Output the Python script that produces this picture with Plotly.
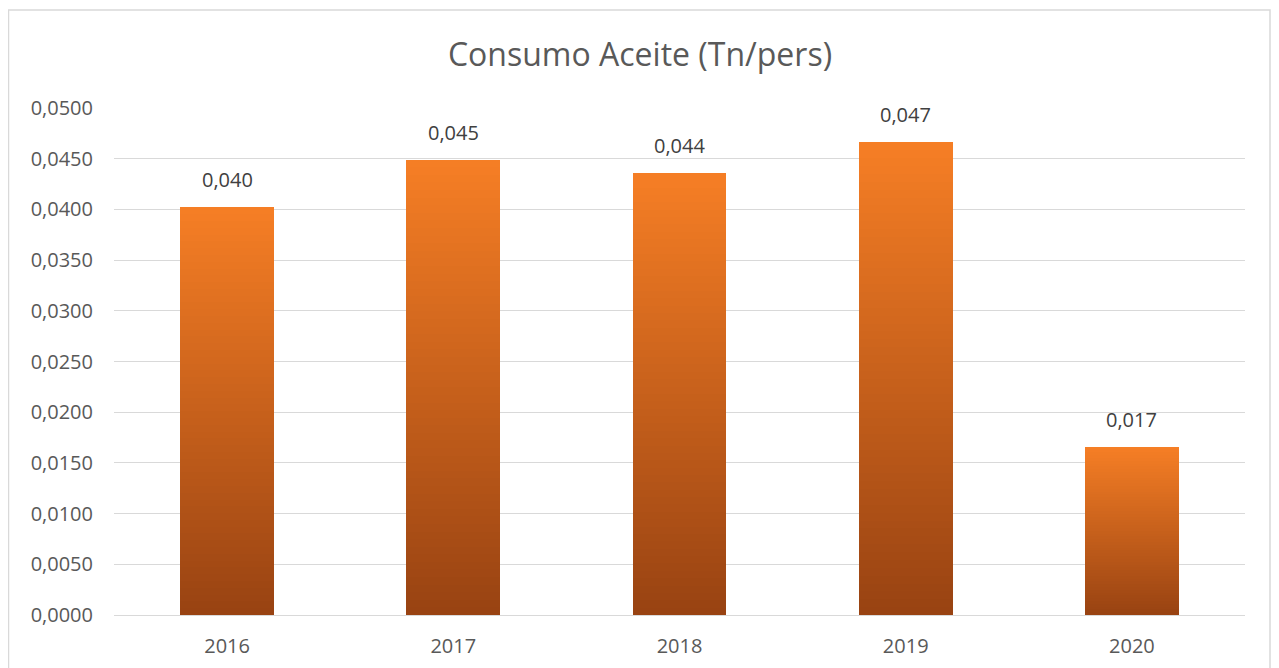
import plotly.graph_objects as go

years = ["2016", "2017", "2018", "2019", "2020"]
consumo = [0.0402, 0.0449, 0.0436, 0.0466, 0.0166]
labels = [f"{v:.3f}".replace(".", ",") for v in consumo]
y_ticks = [round(i * 0.005, 4) for i in range(11)]

title_text = "Consumo Aceite (Tn/pers)"

# vertical gradient (light orange at top, dark brown at bottom) via stacked slices
N = 60
top_rgb = (246, 127, 37)
bot_rgb = (152, 66, 18)

def mix(t):
    return "rgb({},{},{})".format(*[round(b + (a - b) * t) for a, b in zip(top_rgb, bot_rgb)])

fig = go.Figure()
for i in range(N):
    t = (i + 0.5) / N
    fig.add_trace(go.Bar(
        x=years,
        y=[v / N for v in consumo],
        marker=dict(color=mix(t), line=dict(width=0)),
        hoverinfo="skip",
        showlegend=False,
    ))

for idx, (v, lab) in enumerate(zip(consumo, labels)):
    fig.add_annotation(x=idx, y=v, text=lab, showarrow=False, yanchor="bottom",
                       yshift=12, font=dict(family="Open Sans", size=20, color="#404040"))

W, H = 1271, 660
L, T = 106, 100
PW, PH = 1131, 507

fig.update_layout(
    barmode="stack",
    bargap=0.585,
    width=W, height=H,
    separators=",.",
    paper_bgcolor="white", plot_bgcolor="white",
    margin=dict(l=L, r=W - L - PW, t=T, b=H - T - PH, autoexpand=False),
    title=dict(text=title_text, xref="paper", x=(632 - L) / PW, xanchor="center",
               y=1 - 47 / H, yanchor="middle",
               font=dict(family="Open Sans", size=32, color="#595959")),
    font=dict(family="Open Sans", color="#595959"),
    yaxis=dict(range=[0, 0.05], tickvals=y_ticks, tickformat=".4f",
               showgrid=True, gridcolor="#D9D9D9", gridwidth=1,
               zeroline=True, zerolinecolor="#D9D9D9", zerolinewidth=1,
               showline=False, ticks="", ticklen=0, ticklabelstandoff=20,
               tickfont=dict(family="Open Sans", size=20, color="#595959")),
    xaxis=dict(type="category", categoryarray=years, range=[-0.5, len(years) - 0.5],
               showgrid=False, showline=False, ticks="",
               ticklabelstandoff=17,
               tickfont=dict(family="Open Sans", size=20, color="#595959")),
    shapes=[dict(type="rect", xref="paper", yref="paper",
                 x0=(0.5 - L) / PW, x1=(1262 - L) / PW,
                 y0=-0.2, y1=(T + PH - 2) / PH,
                 line=dict(color="#D9D9D9", width=1.5), fillcolor="rgba(0,0,0,0)",
                 layer="below")],
)

fig.write_html("out.html")
